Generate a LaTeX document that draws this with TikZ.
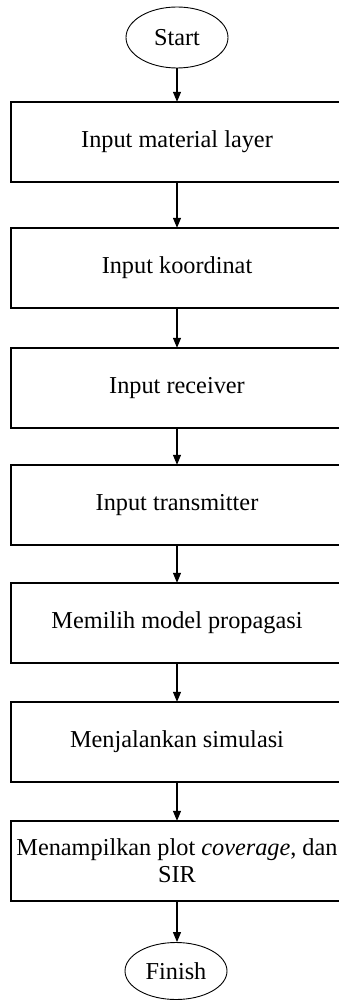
\documentclass[tikz,border=0pt]{standalone}
\usepackage{fontspec}
\setmainfont{Liberation Serif}
\usetikzlibrary{shapes.geometric,arrows.meta}
\begin{document}
\begin{tikzpicture}[x=1pt,y=-1pt,
  stepbox/.style={minimum width=332pt,minimum height=80pt,inner sep=0pt,align=center,font=\fontsize{24.3}{27}\selectfont},
  frame/.style={draw,line width=1.5pt},
  term/.style={draw,ellipse,line width=0.9pt,minimum width=102pt,inner sep=0pt,font=\fontsize{24.3}{27}\selectfont},
  flow/.style={line width=1.1pt,-{Triangle[length=10pt,width=8pt]}}]
\useasboundingbox (0,0) rectangle (339,1000);
\node[term,minimum height=61pt] (s) at (177,37.5) {Start};
\node[stepbox] (b1) at (177,142) {Input material layer};
\node[stepbox] (b2) at (177,268) {Input koordinat};
\node[stepbox] (b3) at (177,388) {Input receiver};
\node[stepbox] (b4) at (177,505) {Input transmitter};
\node[stepbox] (b5) at (177,623) {Memilih model propagasi};
\node[stepbox] (b6) at (177,742) {Menjalankan simulasi};
\node[stepbox] (b7) at (177,861) {Menampilkan plot \textit{coverage}, dan\\SIR};
\node[term,minimum height=57pt] (f) at (176,971) {Finish};
\foreach \b in {b1,b2,b3,b4,b5,b6,b7}
  \draw[frame] (\b.south west) rectangle ([xshift=30pt]\b.north east);
\draw[flow] (s.south) -- (s.south |- b1.north);
\draw[flow] (b1.south -| s.south) -- (b2.north -| s.south);
\draw[flow] (b2.south -| s.south) -- (b3.north -| s.south);
\draw[flow] (b3.south -| s.south) -- (b4.north -| s.south);
\draw[flow] (b4.south -| s.south) -- (b5.north -| s.south);
\draw[flow] (b5.south -| s.south) -- (b6.north -| s.south);
\draw[flow] (b6.south -| s.south) -- (b7.north -| s.south);
\draw[flow] (b7.south -| s.south) -- (f.north -| s.south);
\end{tikzpicture}
\end{document}
